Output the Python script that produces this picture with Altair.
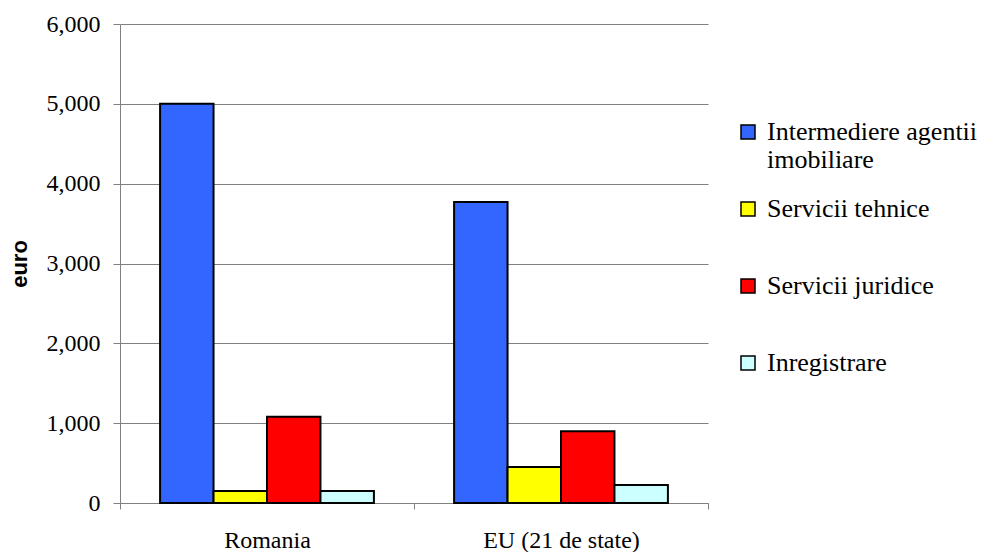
import altair as alt
import pandas as pd

countries = ["Romania", "EU (21 de state)"]
series = ["Intermediere agentii imobiliare", "Servicii tehnice", "Servicii juridice", "Inregistrare"]
colors = ["#3366FF", "#FFFF00", "#FF0000", "#CCFFFF"]
romania_values = [5000, 150, 1080, 150]
eu_values = [3770, 450, 900, 225]
y_ticks = [0, 1000, 2000, 3000, 4000, 5000, 6000]

rows = []
for c, vals in zip(countries, [romania_values, eu_values]):
    for s, v in zip(series, vals):
        rows.append({"country": c, "series": s, "value": v})
df = pd.DataFrame(rows)

serif = "Liberation Serif, Times New Roman, serif"
gray = "#808080"

chart = alt.Chart(df).mark_bar(stroke="black", strokeWidth=2).encode(
    x=alt.X(
        "country:N", sort=countries,
        scale=alt.Scale(paddingInner=0, paddingOuter=0),
        axis=alt.Axis(
            title=None, labelAngle=0, tickBand="extent", grid=False,
            domainColor=gray, tickColor=gray, tickSize=6, labelPadding=19,
            labelFont=serif, labelFontSize=24, labelColor="black",
        ),
    ),
    xOffset=alt.XOffset(
        "series:N", sort=series,
        scale=alt.Scale(paddingInner=0, paddingOuter=0.75),
    ),
    y=alt.Y(
        "value:Q",
        scale=alt.Scale(domain=[0, 6000]),
        axis=alt.Axis(
            values=y_ticks, format=",d", title="euro",
            grid=True, gridColor=gray, gridWidth=1,
            domainColor=gray, tickColor=gray, tickSize=7, labelPadding=13,
            labelFont=serif, labelFontSize=24, labelColor="black",
            titleFont="Liberation Sans", titleFontSize=22, titleFontWeight="bold",
            titleColor="black", titleX=-101, titleBaseline="middle",
        ),
    ),
    color=alt.Color(
        "series:N", sort=series,
        scale=alt.Scale(domain=series, range=colors),
        legend=alt.Legend(
            title=None, orient="none", legendX=615, legendY=95, padding=0,
            symbolType="square", symbolSize=196, symbolStrokeColor="black",
            symbolStrokeWidth=1.5, symbolOpacity=1,
            labelFont=serif, labelFontSize=26, labelColor="black",
            labelLimit=400, labelOffset=6, rowPadding=23, gridAlign="all",
            labelExpr="datum.label == 'Intermediere agentii imobiliare' ? ['Intermediere agentii', 'imobiliare'] : datum.label",
        ),
    ),
).properties(
    width=588, height=479,
    autosize=alt.AutoSizeParams(type="none"),
    padding={"left": 120, "top": 24, "right": 286, "bottom": 49},
).configure_view(strokeWidth=0)

chart.save("out.html", embed_options={"renderer": "svg", "actions": False})
